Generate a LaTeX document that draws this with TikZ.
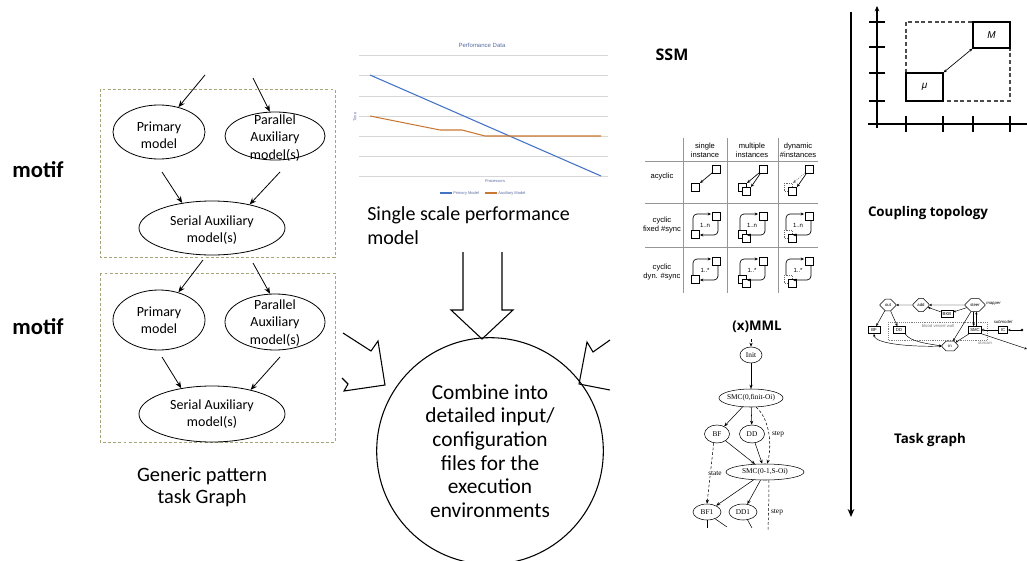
\documentclass[tikz,border=0pt]{standalone}
\usepackage{fontspec}
\setmainfont{Carlito}
\newfontfamily\osfont{Open Sans}
\newfontfamily\helfont{Liberation Sans}
\newfontfamily\tmsfont{Liberation Serif}
\usetikzlibrary{arrows.meta,shapes.geometric,shapes.misc}
\definecolor{motifcol}{RGB}{165,165,120}
\definecolor{chartblue}{RGB}{68,114,196}
\definecolor{chartorange}{RGB}{200,120,50}
\definecolor{gridcol}{RGB}{215,215,215}
\definecolor{tablegray}{RGB}{150,150,150}
\definecolor{charttext}{RGB}{90,110,160}
% SSM icon helpers
\newcommand{\ssmsq}[2]{%
  \fill[black!25] ({#1-3},{#2-3}) rectangle ({#1+5},{#2+5});
  \draw[fill=white, line width=0.5pt] ({#1-4},{#2-4}) rectangle ({#1+4},{#2+4});}
\newcommand{\ssmdsq}[2]{%
  \draw[black!60, densely dotted, line width=0.4pt] ({#1-4},{#2-4}) rectangle ({#1+4},{#2+4});}
\newcommand{\ssmacyc}[3]{% cx, cy, mode
  \begin{scope}[shift={(#1,#2)}]
    \ifcase#3\or
      \ssmsq{-10}{5}
      \draw[ssmarr] (7,-9) -- (-5,1);
    \or
      \ssmsq{-10}{5}\ssmsq{-6}{9}
      \draw[ssmarr] (7,-9) -- (-5,1);
      \draw[ssmarr] (8,-8) -- (-1,5);
    \or
      \ssmdsq{-10}{5}\ssmsq{-6}{9}
      \draw[ssmarr, black!60, densely dotted] (7,-9) -- (-5,1);
      \draw[ssmarr] (8,-8) -- (-1,5);
    \fi
    \ssmsq{11}{-13}
  \end{scope}}
\newcommand{\ssmcyc}[5]{% cx, cy, mode, node name, label
  \begin{scope}[shift={(#1,#2)}]
    \ifcase#3\or
      \ssmsq{-10}{9}
    \or
      \ssmsq{-10}{9}\ssmsq{-6}{13}
    \or
      \ssmdsq{-10}{9}\ssmsq{-6}{13}
    \fi
    \ssmsq{11}{-9}
    \draw[ssmarr, rounded corners=3pt] (-12,5) -- (-12,-11) -- (6,-11);
    \draw[ssmarr, rounded corners=3pt] (13,-5) -- (13,10) -- (-5,10);
    \node[ssmlab] (#4) at (0,0) {#5};
  \end{scope}}
\begin{document}
\begin{tikzpicture}[x=0.75pt,y=-0.75pt,
  motifbox/.style={draw=motifcol, line width=0.7pt, dash pattern=on 2.2pt off 1.6pt},
  modelell/.style={draw, ellipse, line width=0.6pt, inner sep=0pt},
  modeltxt/.style={font=\fontsize{10.5pt}{13pt}\selectfont, align=center, inner sep=0pt},
  flowarr/.style={line width=0.6pt, -{Stealth[length=5pt,width=4pt]}},
  blockarr/.style={line width=0.8pt, line join=miter},
  boldlabel/.style={font=\osfont\bfseries\fontsize{10pt}{12pt}\selectfont},
  charttxt/.style={font=\helfont\fontsize{3pt}{3.5pt}\selectfont, text=charttext, inner sep=0pt},
  tabtxt/.style={font=\helfont\fontsize{5.7pt}{7pt}\selectfont, align=center, inner sep=0pt},
  ssmarr/.style={line width=0.5pt, -{Stealth[length=2.5pt,width=2.2pt]}},
  ssmlab/.style={font=\helfont\fontsize{4.5pt}{5pt}\selectfont, inner sep=0pt},
  mmlell/.style={draw, ellipse, line width=0.4pt, inner sep=0pt},
  mmltxt/.style={font=\tmsfont\fontsize{5.5pt}{6pt}\selectfont, inner sep=0pt},
  mmlarr/.style={line width=0.4pt, -{Stealth[length=3pt,width=2.4pt]}},
  mmldash/.style={mmlarr, dash pattern=on 2pt off 1.5pt},
  tgbox/.style={draw, line width=0.4pt, inner sep=0.6pt, minimum width=9pt, minimum height=5.5pt, font=\helfont\fontsize{3.2pt}{3.6pt}\selectfont},
  tgoct/.style={tgbox, chamfered rectangle, chamfered rectangle xsep=1.2pt, minimum width=12pt, minimum height=6.5pt},
  tgarr/.style={line width=0.35pt, -{Stealth[length=2pt,width=1.8pt]}},
  tgnote/.style={font=\helfont\itshape\fontsize{3.2pt}{3.6pt}\selectfont, inner sep=0pt}
]
\useasboundingbox (0,0) rectangle (1027,560);
\fill[white] (0,0) rectangle (1027,560);

% ---------- motif labels ----------
\node[font=\bfseries\fontsize{17pt}{20pt}\selectfont] (motif1) at (38,170) {motif};
\node[font=\bfseries\fontsize{17pt}{20pt}\selectfont] (motif2) at (38,327) {motif};

% ---------- motif boxes ----------
\draw[motifbox] (100,89) rectangle (335,257);
\draw[motifbox] (100,273) rectangle (335,442);

% box 1
\node[modelell, minimum width=69pt, minimum height=40.5pt] (pri1) at (159,132) {};
\node[modeltxt] (pri1t) at (159,135) {Primary\\model};
\node[modelell, minimum width=75pt, minimum height=36pt] (par1) at (275,136) {};
\node[modeltxt] (par1t) at (275,138) {Parallel\\Auxiliary\\model(s)};
\node[modelell, minimum width=109.5pt, minimum height=40.5pt] (ser1) at (212,228) {};
\node[modeltxt] (ser1t) at (212,230) {Serial Auxiliary\\model(s)};
% box 2
\node[modelell, minimum width=69pt, minimum height=45pt] (pri2) at (159,320) {};
\node[modeltxt] (pri2t) at (159,320) {Primary\\model};
\node[modelell, minimum width=75pt, minimum height=42pt] (par2) at (275,322) {};
\node[modeltxt] (par2t) at (275,323) {Parallel\\Auxiliary\\model(s)};
\node[modelell, minimum width=109.5pt, minimum height=42pt] (ser2) at (212,414) {};
\node[modeltxt] (ser2t) at (212,414) {Serial Auxiliary\\model(s)};

\coordinate (in1a) at (205,75);
\coordinate (in1b) at (253,78);
\coordinate (p1s) at (162,172);
\coordinate (q1s) at (280,172);
\coordinate (l2a) at (203,260);
\coordinate (l2b) at (253,263);
\coordinate (p2s) at (162,357);
\coordinate (q2s) at (280,357);
\draw[flowarr] (in1a) -- (pri1.52);
\draw[flowarr] (in1b) -- (par1.102);
\draw[flowarr] (p1s) -- (ser1.140);
\draw[flowarr] (q1s) -- (ser1.32);
\draw[flowarr] (l2a) -- (pri2.55);
\draw[flowarr] (l2b) -- (par2.100);
\draw[flowarr] (p2s) -- (ser2.140);
\draw[flowarr] (q2s) -- (ser2.32);

\node[font=\fontsize{15.3pt}{16.3pt}\selectfont, align=center] (gen) at (202,487) {Generic pattern\\task Graph};

% ---------- performance chart ----------
\foreach \yy in {55,75,96,116,136,156,176}
  \draw[gridcol, line width=0.6pt] (359,\yy) -- (608,\yy);
\draw[chartblue, line width=0.8pt] (370,75) -- (601,176);
\draw[chartorange, line width=0.8pt] (370,116) -- (440,130) -- (462,130) -- (485,136) -- (601,136);
\node[charttxt, font=\helfont\fontsize{4.5pt}{5pt}\selectfont] (ctitle) at (482,45) {Perfomance Data};
\node[charttxt, rotate=90] (ctime) at (355,117) {Time};
\node[charttxt] (cproc) at (495,181) {Processors};
\draw[chartblue, line width=0.8pt] (440,193) -- (452,193);
\node[charttxt, anchor=west] (legp) at (453,193) {Primary Model};
\draw[chartorange, line width=0.8pt] (485,193) -- (497,193);
\node[charttxt, anchor=west] (lega) at (498,193) {Auxiliary Model};

\node[font=\fontsize{15pt}{18pt}\selectfont, align=left, anchor=west, inner sep=0pt] (ssp) at (367,226) {Single scale performance\\model};

% ---------- block arrows ----------
\draw[blockarr] (463,252) -- (463,310) -- (451,310) -- (482,339) -- (513,310) -- (502,310) -- (502,252);
\draw[blockarr] (343,333) -- (371,351) -- (378,341) -- (385,385) -- (344,391) -- (348,384) -- (342,378);
\draw[blockarr] (610,340) -- (593,352) -- (587,342) -- (579,384) -- (610,390);

% ---------- central circle ----------
\node[draw, circle, line width=0.8pt, minimum size=170pt, inner sep=0pt,
      font=\fontsize{16pt}{17.8pt}\selectfont, align=center] (comb) at (490,451)
  {Combine into\\detailed input/\\configuration\\files for the\\execution\\environments};

% ---------- SSM ----------
\node[boldlabel, font=\osfont\bfseries\fontsize{12pt}{14pt}\selectfont] (ssm) at (672,55) {SSM};
\foreach \xx in {683,727,778} \draw[tablegray, line width=0.5pt] (\xx,138) -- (\xx,293);
\foreach \yy in {161,203,247} \draw[tablegray, line width=0.5pt] (645,\yy) -- (818,\yy);
\node[tabtxt] (h1) at (705,150) {single\\instance};
\node[tabtxt] (h2) at (752,150) {multiple\\instances};
\node[tabtxt] (h3) at (798,150) {dynamic\\\#instances};
\node[tabtxt] (r1) at (662,177) {acyclic};
\node[tabtxt] (r2) at (662,225) {cyclic\\fixed \#sync};
\node[tabtxt] (r3) at (662,272) {cyclic\\dyn. \#sync};
\ssmacyc{705}{182}{1}
\ssmacyc{752}{182}{2}
\ssmacyc{798}{182}{3}
\ssmcyc{705}{225}{1}{c21}{1..n}
\ssmcyc{752}{225}{2}{c22}{1..n}
\ssmcyc{798}{225}{3}{c23}{1..n}
\ssmcyc{705}{270}{1}{c31}{1..*}
\ssmcyc{752}{270}{2}{c32}{1..*}
\ssmcyc{798}{270}{3}{c33}{1..*}

% ---------- (x)MML ----------
\node[boldlabel] (xmml) at (757,327) {(x)MML};
\node[mmlell, minimum width=16.5pt, minimum height=12pt] (init) at (751,355) {};
\node[mmltxt] (initt) at (init) {Init};
\node[mmlell, minimum width=48pt, minimum height=13.5pt] (smc0) at (751,398) {};
\node[mmltxt] (smc0t) at (smc0) {SMC(0,finit-Oi)};
\node[mmlell, minimum width=18.75pt, minimum height=13.5pt] (bf) at (717,434) {};
\node[mmltxt] (bft) at (bf) {BF};
\node[mmlell, minimum width=18.75pt, minimum height=13.5pt] (dd) at (752,434) {};
\node[mmltxt] (ddt) at (dd) {DD};
\node[mmlell, minimum width=58.5pt, minimum height=12pt] (smc1) at (765,472) {};
\node[mmltxt] (smc1t) at (smc1) {SMC(0-1,S-Oi)};
\node[mmlell, minimum width=21pt, minimum height=12pt] (bf1) at (707,512) {};
\node[mmltxt] (bf1t) at (bf1) {BF1};
\node[mmlell, minimum width=21pt, minimum height=12pt] (dd1) at (743,512) {};
\node[mmltxt] (dd1t) at (dd1) {DD1};
\coordinate (minit) at (751,339);
\coordinate (mend) at (768,530);
\coordinate (bfo) at (727,527);
\coordinate (bfo2) at (707,528);
\coordinate (ddo) at (752,528);
\draw[mmldash] (minit) -- (init);
\draw[mmlarr] (init) -- (smc0);
\draw[mmlarr] (smc0) -- (bf);
\draw[mmlarr] (smc0) -- (dd);
\draw[mmlarr] (bf) -- (smc1);
\draw[mmlarr] (dd) -- (smc1);
\draw[mmldash] (smc0.-60) .. controls (770,420) and (772,445) .. (smc1.75);
\node[mmltxt] (step1) at (778,434) {step};
\draw[mmldash] (bf.-110) -- (bf1.north);
\node[mmltxt, fill=white, inner sep=0.5pt] (state) at (715,473) {state};
\draw[mmlarr] (smc1) -- (bf1);
\draw[mmlarr] (smc1) -- (dd1);
\draw[mmldash, -] (smc1.-65) .. controls (769,495) .. (mend);
\node[mmltxt] (step2) at (777,512) {step};
\draw[line width=0.4pt] (bf1.-40) -- (bfo);
\draw[line width=0.4pt] (bf1.south) -- (bfo2);
\draw[line width=0.4pt] (dd1.-60) -- (ddo);

% ---------- time line ----------
\coordinate (tlTop) at (851,12);
\coordinate (tlBot) at (851,517);
\draw[line width=1.3pt, -{Stealth[length=6pt,width=5pt]}] (tlTop) -- (tlBot);

% ---------- coupling topology ----------
\draw[line width=1.1pt, -{Stealth[length=4pt,width=3.5pt]}] (877,128) -- (877,6);
\draw[line width=1.1pt] (868,124) -- (1027,124);
\foreach \t in {22,47,73,101} \draw[line width=1.1pt] (869,\t) -- (885,\t);
\foreach \t in {906,943,973,1010} \draw[line width=1.1pt] (\t,116) -- (\t,132);
\draw[black!70, line width=0.8pt, dash pattern=on 3pt off 2pt] (906,22) rectangle (1010,101);
\node[draw, fill=white, line width=0.8pt, minimum width=27.75pt, minimum height=19.5pt, inner sep=0pt,
      font=\helfont\itshape\fontsize{7.5pt}{8pt}\selectfont] (Mbox) at (991.5,35) {M};
\node[draw, fill=white, line width=0.8pt, minimum width=27.75pt, minimum height=21pt, inner sep=0pt,
      font=\helfont\itshape\fontsize{7.5pt}{8pt}\selectfont] (mubox) at (924.5,87) {μ};
\draw[line width=0.5pt, {Stealth[length=2.5pt,width=2pt]}-{Stealth[length=2.5pt,width=2pt]}] (mubox.north east) -- (Mbox.south west);
\node[boldlabel] (coupl) at (928,213) {Coupling topology};

% ---------- task graph ----------
\draw[gray, densely dotted, line width=0.4pt] (888,322) rectangle (987,340);
\node[tgoct] (tgout) at (888,305) {out};
\node[tgoct] (tgadd) at (921,305) {add};
\node[tgoct, minimum width=15pt] (tgsteer) at (975,305) {steer};
\node[tgnote, anchor=west] (tgmapper) at (986,304) {mapper};
\node[tgbox] (tgbkb) at (947,314) {BKB};
\node[tgbox] (tgbf) at (874,330) {BF};
\node[tgbox] (tgdd) at (899,330) {DD};
\node[tgbox, minimum width=10pt] (tgsmc) at (975,330) {SMC};
\node[tgbox, minimum width=7pt] (tgic) at (1003,330) {IC};
\node[tgoct] (tgin) at (950,346) {in};
\node[tgnote, gray, font=\helfont\fontsize{3.2pt}{3.6pt}\selectfont] (tgwall) at (938,326) {blood vessel wall};
\node[tgnote, gray] (tgdomain) at (985,343) {domain};
\node[tgnote] (tgsub) at (1003,322) {submodel};
\coordinate (tgR) at (1022,330);
\coordinate (tgR2) at (1027,349);
\fill (tgR) circle (1.3);
\draw[tgarr] (tgR) -- (tgic);
\draw[line width=0.35pt, {Circle[open,length=2pt,width=2pt]}-] (tgsmc) -- (tgic);
\draw[tgarr] (tgadd) -- (tgout);
\draw[tgarr] (tgsteer) -- (tgadd);
\draw[tgarr] (tgsteer) -- (tgbkb);
\draw[tgarr] (tgbkb) -- (tgadd);
\draw[tgarr] (tgout) -- (tgbf);
\draw[tgarr] (tgout) -- (tgdd);
\draw[tgarr] ([xshift=-1pt]tgsteer.south) -- ([xshift=-1pt]tgsmc.north);
\draw[tgarr] ([xshift=1pt]tgsmc.north) -- ([xshift=1pt]tgsteer.south);
\draw[tgarr] (tgsteer) -- (tgin);
\draw[tgarr] (tgsmc) -- (tgin);
\draw[line width=0.35pt, {Stealth[length=2pt,width=1.8pt]}-{Stealth[length=2pt,width=1.8pt]}] (tgbf.south) .. controls (875,345) and (920,347) .. (tgin.west);
\draw[tgarr] (tgdd.south east) .. controls (910,342) and (930,344) .. (tgin.west);
\draw[tgarr] (tgsmc.south east) -- (tgR2);
\node[boldlabel] (taskg) at (930,440) {Task graph};
\end{tikzpicture}
\end{document}
